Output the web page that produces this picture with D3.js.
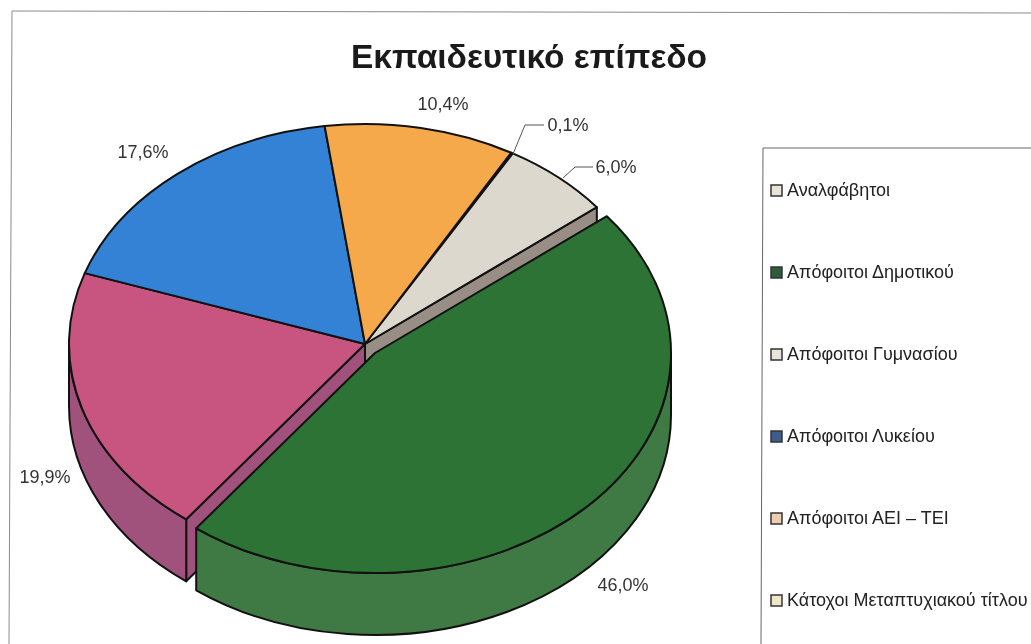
<!DOCTYPE html>
<html>
<meta charset="utf-8">
<title>Εκπαιδευτικό επίπεδο</title>
<style>
html, body {
  margin: 0;
  background: #fff;
}

svg {
  display: block;
  filter: blur(0.45px);
}

text {
  font-family: "Liberation Sans", sans-serif;
}

.slice {
  stroke: #111;
  stroke-width: 2px;
  stroke-linejoin: round;
}

.leader {
  fill: none;
  stroke: #555;
  stroke-width: 1px;
}
</style>
<body>
<div id="chart"></div>
<script src="https://d3js.org/d3.v7.min.js"></script>
<script>

var title = "Εκπαιδευτικό επίπεδο";

// pie order, clockwise from the top of the chart
var categories = ["Αναλφάβητοι", "Απόφοιτοι Δημοτικού", "Απόφοιτοι Γυμνασίου", "Απόφοιτοι Λυκείου", "Απόφοιτοι ΑΕΙ – ΤΕΙ", "Κάτοχοι Μεταπτυχιακού τίτλου"];
var values = [0.1, 6.0, 46.0, 19.9, 17.6, 10.4];
var topColors = ["#dcd8ce", "#dcd8ce", "#2d7336", "#c8557f", "#3382d6", "#f6a94b"];
var sideColors = ["#988e85", "#988e85", "#3f7a45", "#a0527c", "#2a6ab0", "#c98a3c"];
var legendColors = ["#e8e4da", "#2f5a3c", "#e8e4da", "#3f5c8c", "#eccdb0", "#f0e6c8"];

// percentage labels, placed around the pie
var labelX = [568, 616, 623, 45, 143, 443];
var labelY = [131, 173, 591, 483, 158, 110];

var width = 1031,
  height = 644;

var cx = 365,
  cy = 344,
  rx = 296,
  ry = 220,
  depth = 62,
  explode = {x: 10, y: 9},
  explodedIndex = 2;

var pie = d3.pie()
  .sort(null)
  .startAngle(29.6 * Math.PI / 180)
  .endAngle(389.6 * Math.PI / 180);

var slices = pie(values);
slices.forEach(function(d, i) { d.index = i; });

function px(a) { return rx * Math.sin(a); }
function py(a) { return -ry * Math.cos(a); }

function topPath(d) {
  var large = d.endAngle - d.startAngle > Math.PI ? 1 : 0;
  return "M0,0L" + px(d.startAngle) + "," + py(d.startAngle) +
    "A" + rx + "," + ry + " 0 " + large + " 1 " + px(d.endAngle) + "," + py(d.endAngle) + "Z";
}

// outer wall: only the part of the rim on the front half of the ellipse
function rimPath(d) {
  var a0 = Math.max(d.startAngle, Math.PI / 2),
    a1 = Math.min(d.endAngle, Math.PI * 1.5);
  if (a1 <= a0) return null;
  return "M" + px(a0) + "," + py(a0) +
    "A" + rx + "," + ry + " 0 0 1 " + px(a1) + "," + py(a1) +
    "L" + px(a1) + "," + (py(a1) + depth) +
    "A" + rx + "," + ry + " 0 0 0 " + px(a0) + "," + (py(a0) + depth) + "Z";
}

// cut face next to the exploded slice
function cutPath(a) {
  return "M0,0L" + px(a) + "," + py(a) +
    "L" + px(a) + "," + (py(a) + depth) +
    "L0," + depth + "Z";
}

var svg = d3.select("#chart").append("svg")
  .attr("width", width)
  .attr("height", height);

// frame
svg.append("path")
  .attr("d", "M9,644L12,11L1031,13")
  .attr("fill", "none")
  .attr("stroke", "#8a8a8a")
  .attr("stroke-width", 1);

svg.append("text")
  .attr("x", 529)
  .attr("y", 68)
  .attr("text-anchor", "middle")
  .attr("font-size", 33.5)
  .attr("font-weight", "bold")
  .attr("fill", "#1a1a1a")
  .text(title);

var pieG = svg.append("g")
  .attr("transform", "translate(" + cx + "," + cy + ")");

var rest = slices.filter(function(d) { return d.index !== explodedIndex; });
var exploded = slices[explodedIndex];

// cut faces left open by the exploded slice
pieG.append("path")
  .attr("class", "slice")
  .attr("d", cutPath(exploded.startAngle))
  .attr("fill", sideColors[1]);

pieG.append("path")
  .attr("class", "slice")
  .attr("d", cutPath(exploded.endAngle))
  .attr("fill", sideColors[3]);

pieG.selectAll(".rim")
  .data(rest.filter(rimPath))
  .enter().append("path")
  .attr("class", "slice rim")
  .attr("d", rimPath)
  .attr("fill", function(d) { return sideColors[d.index]; });

pieG.selectAll(".top")
  .data(rest)
  .enter().append("path")
  .attr("class", "slice top")
  .attr("d", topPath)
  .attr("fill", function(d) { return topColors[d.index]; });

var explodedG = pieG.append("g")
  .attr("transform", "translate(" + explode.x + "," + explode.y + ")");

explodedG.append("path")
  .attr("class", "slice")
  .attr("d", rimPath(exploded))
  .attr("fill", sideColors[explodedIndex]);

explodedG.append("path")
  .attr("class", "slice")
  .attr("d", topPath(exploded))
  .attr("fill", topColors[explodedIndex]);

var fmt = function(v) { return v.toFixed(1).replace(".", ",") + "%"; };

svg.selectAll(".pct")
  .data(values)
  .enter().append("text")
  .attr("class", "pct")
  .attr("x", function(d, i) { return labelX[i]; })
  .attr("y", function(d, i) { return labelY[i]; })
  .attr("text-anchor", "middle")
  .attr("font-size", 18)
  .attr("fill", "#333")
  .text(fmt);

svg.append("path")
  .attr("class", "leader")
  .attr("d", "M513,154L525,125H544");
svg.append("path")
  .attr("class", "leader")
  .attr("d", "M563,178L575,167H593");

// legend
svg.append("path")
  .attr("d", "M761,644L763,148H1031")
  .attr("fill", "none")
  .attr("stroke", "#666")
  .attr("stroke-width", 1);

var legendY = d3.scalePoint()
  .domain(categories)
  .range([190, 600]);

var legend = svg.selectAll(".legend")
  .data(categories)
  .enter().append("g")
  .attr("class", "legend")
  .attr("transform", function(d) { return "translate(0," + legendY(d) + ")"; });

legend.append("rect")
  .attr("x", 771)
  .attr("y", -5)
  .attr("width", 11)
  .attr("height", 11)
  .attr("fill", function(d, i) { return legendColors[i]; })
  .attr("stroke", "#333")
  .attr("stroke-width", 1.5);

legend.append("text")
  .attr("x", 787)
  .attr("y", 6)
  .attr("font-size", 18)
  .attr("fill", "#222")
  .text(function(d) { return d; });

</script>
</body>
</html>
